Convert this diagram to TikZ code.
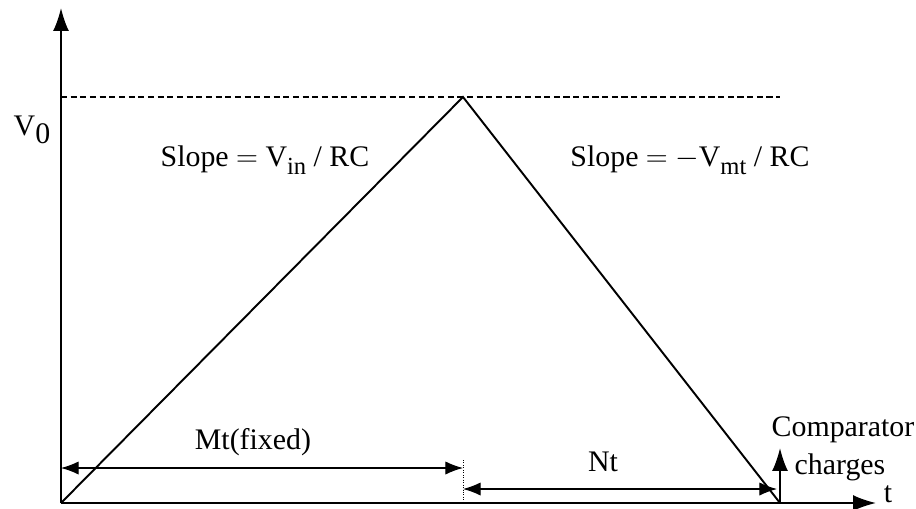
\documentclass[tikz,border=0pt]{standalone}
\usepackage{amsmath}
\usepackage{fontspec}
\setmainfont{Liberation Serif}
\usetikzlibrary{arrows.meta, positioning, calc}

\newcommand{\lowsub}[1]{\raisebox{-0.6ex}{\fontsize{14}{14}\selectfont #1}}

\begin{document}
\begin{tikzpicture}[x=0.02cm, y=-0.02cm, every node/.style={outer sep=0pt, font=\fontsize{17}{20}\selectfont},
    axis/.style={line width=1pt, -{Latex[length=13pt, width=9pt]}},
    ramp/.style={line width=1.1pt},
    dim/.style={line width=0.6pt, {Latex[length=10pt, width=7.5pt]}-{Latex[length=10pt, width=7.5pt]}}]
    \useasboundingbox (0,0) rectangle (916,508);

    % Points
    \coordinate (O) at (61,503);
    \coordinate (ytip) at (61,8);
    \coordinate (xtip) at (876,503);
    \coordinate (peak) at (463,97);
    \coordinate (stop) at (780,503);
    \coordinate (dashend) at (780,97);
    \coordinate (comptip) at (780,448);

    % Axes
    \draw[axis] (O) -- (ytip);
    \draw[axis] (O) -- (xtip);
    \node (t) at (888,494) {t};
    \node (vzero) at (32,130) {V\lowsub{\fontsize{17}{17}\selectfont 0}};
    \draw[dash pattern=on 3.5pt off 2pt, line width=0.6pt] (ytip |- peak) -- (dashend);

    % Integrate up, then down
    \draw[ramp] (O) -- (peak) -- (stop);
    \node (slopeup) at (265,160) {Slope\ $=$\ V\lowsub{in}\ / RC};
    \node (slopedown) at (690,160) {Slope\ $=$\ $-$V\lowsub{mt}\ / RC};

    % Times
    \coordinate (mtL) at (61,468);
    \coordinate (mtR) at (463,468);
    \coordinate (ntL) at (463,489);
    \coordinate (ntR) at (777,489);
    \draw[line width=0.4pt, densely dotted] (463,460) -- (peak |- O);
    \draw[dim] (mtL) -- (mtR);
    \node (mt) at (253,442) {Mt(fixed)};
    \draw[dim] (ntL) -- (ntR);
    \node (nt) at (603,462) {Nt};

    % Comparator
    \draw[axis] (stop) -- (comptip);
    \node (comp) at (843,430) {Comparator};
    \node (charges) at (840,467) {charges};
\end{tikzpicture}
\end{document}
